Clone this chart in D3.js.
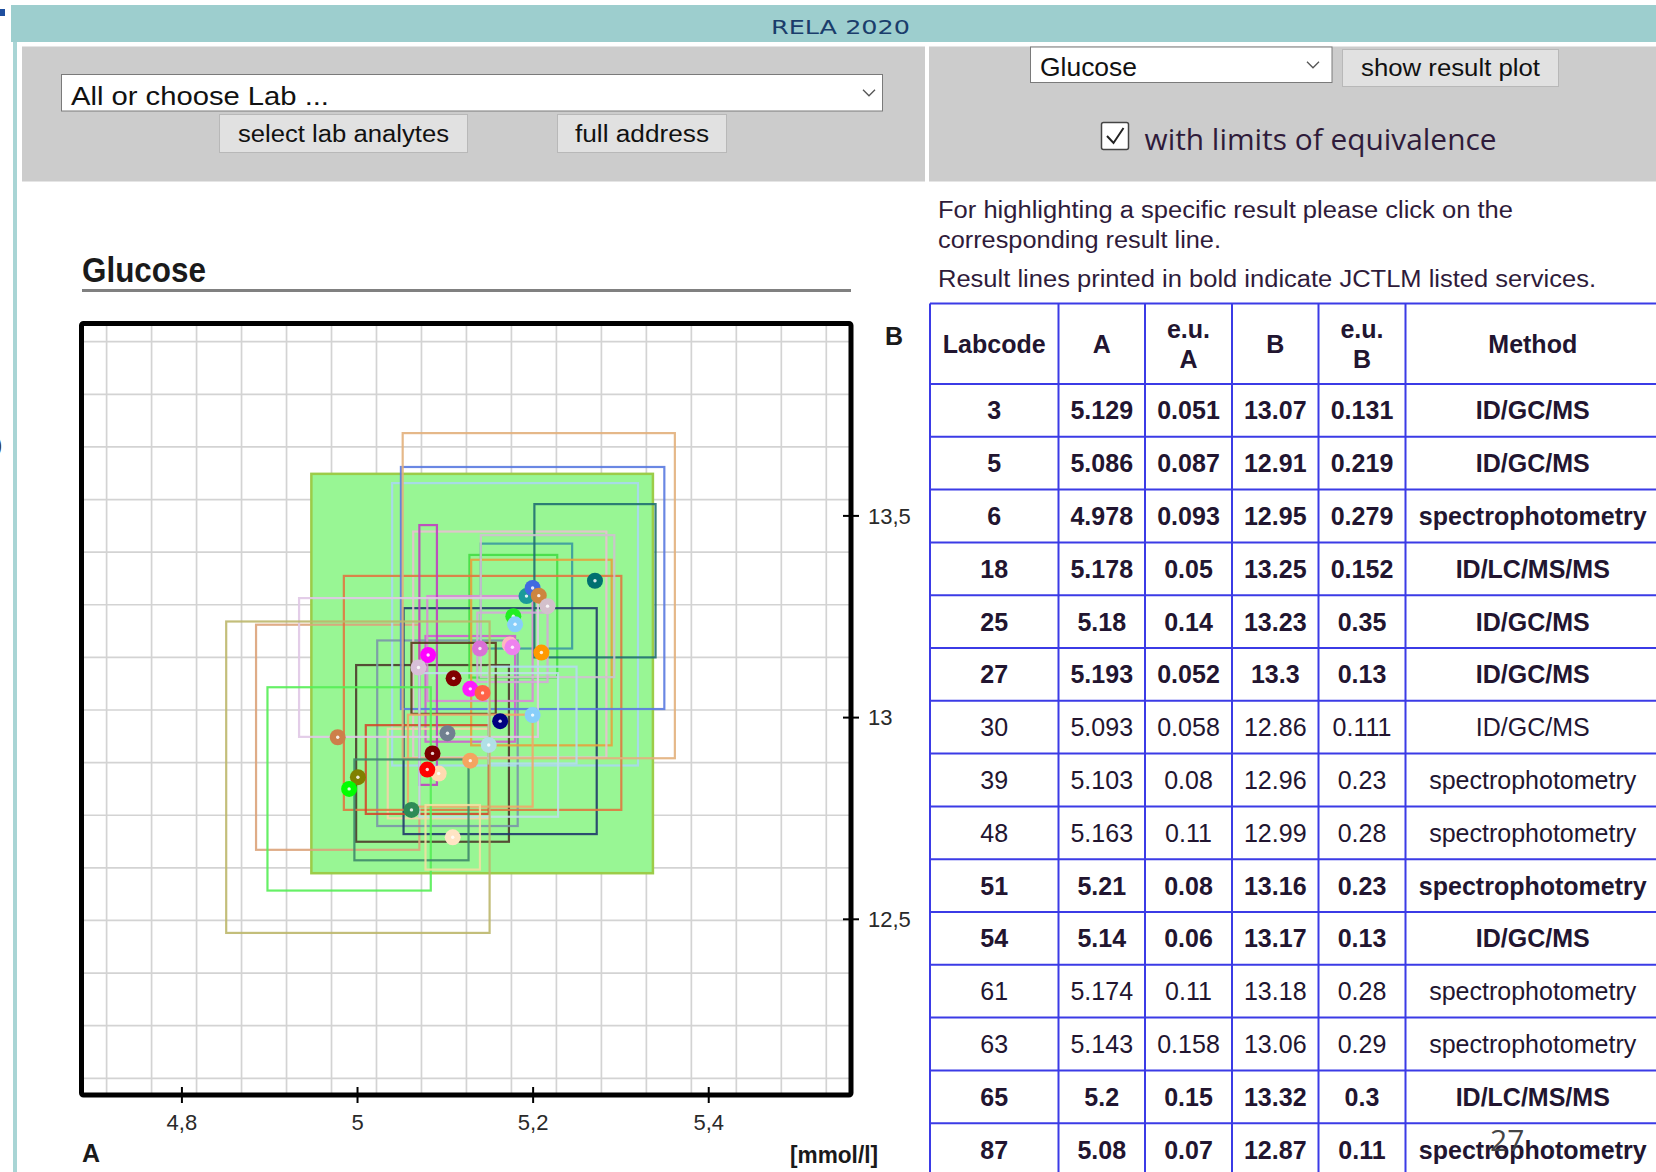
<!DOCTYPE html>
<html>
<head>
<meta charset="utf-8">
<script src="https://cdn.jsdelivr.net/npm/d3@7"></script>
<style>
  html, body { margin: 0; padding: 0; background: #fff; }
  svg { display: block; }
</style>
</head>
<body>
<div id="page"></div>
<script>
// result table (visible rows)
const labCodes = [3, 5, 6, 18, 25, 27, 30, 39, 48, 51, 54, 61, 63, 65, 87];
const valuesA  = [5.129, 5.086, 4.978, 5.178, 5.18, 5.193, 5.093, 5.103, 5.163, 5.21, 5.14, 5.174, 5.143, 5.2, 5.08];
const uncA     = [0.051, 0.087, 0.093, 0.05, 0.14, 0.052, 0.058, 0.08, 0.11, 0.08, 0.06, 0.11, 0.158, 0.15, 0.07];
const valuesB  = [13.07, 12.91, 12.95, 13.25, 13.23, 13.3, 12.86, 12.96, 12.99, 13.16, 13.17, 13.18, 13.06, 13.32, 12.87];
const uncB     = [0.131, 0.219, 0.279, 0.152, 0.35, 0.13, 0.111, 0.23, 0.28, 0.23, 0.13, 0.28, 0.29, 0.3, 0.11];
const methods  = ["ID/GC/MS", "ID/GC/MS", "spectrophotometry", "ID/LC/MS/MS", "ID/GC/MS", "ID/GC/MS", "ID/GC/MS",
                  "spectrophotometry", "spectrophotometry", "spectrophotometry", "ID/GC/MS", "spectrophotometry",
                  "spectrophotometry", "ID/LC/MS/MS", "spectrophotometry"];
const jctlm    = [true, true, true, true, true, true, false, false, false, true, true, false, false, true, true];

// further labs in the plot (table rows below the cut)
const moreA    = [5.271, 5.207, 5.217, 5.177, 5.081, 5.070, 5.110, 5.200, 5.150, 5.129, 5.001, 4.991, 5.062, 5.109];
const moreUncA = [0.069, 0.155, 0.076, 0.040, 0.010, 0.136, 0.048, 0.050, 0.079, 0.071, 0.150, 0.093, 0.065, 0.031];
const moreB    = [13.338, 13.301, 13.275, 13.173, 13.154, 13.123, 13.096, 13.005, 12.931, 12.892, 12.851, 12.822, 12.770, 12.702];
const moreUncB = [0.190, 0.403, 0.176, 0.086, 0.322, 0.172, 0.088, 0.120, 0.178, 0.114, 0.386, 0.252, 0.125, 0.080];

// limits of equivalence
const eqRangeA = [4.948, 5.337];
const eqRangeB = [12.613, 13.603];

const xTicks = [4.8, 5, 5.2, 5.4];
const yTicks = [12.5, 13, 13.5];

// colours (same order as the arrays above)
const rectColors = ["#cf5fcf", "#4d3b2a", "#dba37a", "#44dd44", "#a8d8f0", "#3b9aa0", "#f3d3a8", "#7a96a8",
                    "#1f3a6a", "#e6a23c", "#d98ad6", "#e8c0d0", "#e07840", "#5a7ae0", "#d24a2a"];
const dotColors  = ["#ff1aff", "#7b0000", "#cd7f4a", "#22ee22", "#87cefa", "#1a9a9a", "#ffdab0", "#708090",
                    "#000080", "#ff9900", "#da70d6", "#ffb6c1", "#ff6347", "#4169e1", "#ff0000"];
const moreRectColors = ["#207070", "#e2b07c", "#cfc0cf", "#d4a8d8", "#c040c0", "#e0c8e6", "#5c3a1e",
                        "#b4dcf0", "#bde0e8", "#f0a868", "#bdb76b", "#55ee55", "#3f8a6a", "#f0e0a0"];
const moreDotColors  = ["#007070", "#cd853f", "#d3c0cc", "#ee82ee", "#ff00ff", "#d8bfd8", "#800000",
                        "#87cefa", "#b0e0e6", "#f4a460", "#808000", "#00ff00", "#2e8b57", "#ffe4c4"];

const W = 1656, H = 1172;
const textColor = "#2f1b3a";

const svg = d3.select("#page").append("svg")
    .attr("width", W)
    .attr("height", H)
    .style("font-family", "'Liberation Sans', Arial, sans-serif");

function txt(x, y, s, size, opts = {}) {
    const t = svg.append("text")
        .attr("x", x)
        .attr("y", y)
        .attr("font-size", size)
        .attr("fill", opts.fill || "#111")
        .attr("font-weight", opts.bold ? "bold" : null)
        .attr("text-anchor", opts.anchor || "start")
        .text(s);
    if (opts.family) t.style("font-family", opts.family);
    if (opts.len) t.attr("textLength", opts.len).attr("lengthAdjust", "spacingAndGlyphs");
    return t;
}

// ---- page frame / header
svg.append("rect").attr("x", 11).attr("y", 5).attr("width", W - 11).attr("height", 37).attr("fill", "#9dcece");
svg.append("rect").attr("x", 13).attr("y", 42).attr("width", 4).attr("height", H - 42).attr("fill", "#a9d5d5");
svg.append("rect").attr("x", 0).attr("y", 9).attr("width", 5).attr("height", 7).attr("fill", "#1f4f9f");
txt(-5, 452, ")", 22, { fill: "#333" });
txt(771, 33.5, "RELA 2020", 20, { fill: "#1a3d6b", family: "'DejaVu Sans', sans-serif", len: 139 });

// gray control panels
svg.append("rect").attr("x", 22).attr("y", 46.5).attr("width", 903).attr("height", 135).attr("fill", "#cccccc");
svg.append("rect").attr("x", 929).attr("y", 46.5).attr("width", W - 929).attr("height", 135).attr("fill", "#cccccc");

function selectBox(x0, y0, w, h, label, labelW, chevX) {
    svg.append("rect").attr("x", x0).attr("y", y0).attr("width", w).attr("height", h)
        .attr("fill", "#fff").attr("stroke", "#7a7a7a").attr("stroke-width", 1);
    txt(x0 + 9.5, y0 + h - 6.5, label, 26, { len: labelW });
    svg.append("polyline")
        .attr("points", `${chevX - 6},${y0 + h / 2 - 3} ${chevX},${y0 + h / 2 + 3} ${chevX + 6},${y0 + h / 2 - 3}`)
        .attr("fill", "none").attr("stroke", "#555").attr("stroke-width", 1.3);
}
function button(x0, y0, w, h, label, labelW) {
    svg.append("rect").attr("x", x0).attr("y", y0).attr("width", w).attr("height", h)
        .attr("fill", "#e1e1e1").attr("stroke", "#b8b8b8").attr("stroke-width", 1);
    txt(x0 + w / 2 - labelW / 2, y0 + h / 2 + 8, label, 23, { len: labelW });
}

selectBox(61.5, 74.5, 821, 36.5, "All or choose Lab ...", 258, 869);
button(219.5, 114.5, 248, 38, "select lab analytes", 211);
button(557.5, 114.5, 169, 38, "full address", 134);

selectBox(1030.5, 47, 301.5, 35.5, "Glucose", 97, 1313);
button(1342.5, 49.5, 216, 37, "show result plot", 179);

svg.append("rect").attr("x", 1101.5).attr("y", 122.5).attr("width", 27).attr("height", 27)
    .attr("fill", "#fff").attr("stroke", "#444").attr("stroke-width", 1.5).attr("rx", 2);
svg.append("polyline").attr("points", "1107,136 1113.5,143 1123.5,128")
    .attr("fill", "none").attr("stroke", "#222").attr("stroke-width", 2);
txt(1144.5, 150, "with limits of equivalence", 29, { fill: textColor, family: "'Open Sans', sans-serif", len: 352 });

// ---- explanatory text
txt(938, 218, "For highlighting a specific result please click on the", 23, { fill: textColor, len: 575 });
txt(938, 248, "corresponding result line.", 23, { fill: textColor, len: 283 });
txt(938, 287, "Result lines printed in bold indicate JCTLM listed services.", 23, { fill: textColor, len: 658 });

// ---- chart
const plot = { left: 81.5, top: 323.5, right: 851, bottom: 1095 };
const x = d3.scaleLinear().domain([4.6862, 5.5626]).range([plot.left, plot.right]);
const y = d3.scaleLinear().domain([12.0632, 13.9757]).range([plot.bottom, plot.top]);

txt(82, 282, "Glucose", 35, { bold: true, fill: "#1a1a1a", len: 124 });
svg.append("line").attr("x1", 82).attr("x2", 851).attr("y1", 290.5).attr("y2", 290.5)
    .attr("stroke", "#808080").attr("stroke-width", 3);

svg.append("rect").attr("x", plot.left).attr("y", plot.top)
    .attr("width", plot.right - plot.left).attr("height", plot.bottom - plot.top).attr("fill", "#fff");

// background grid (fixed raster, not aligned to ticks)
const gx = d3.scaleLinear().domain([0, 16]).range([106.6, 826.3]);
const gy = d3.scaleLinear().domain([0, 14]).range([341.7, 1078.3]);
const grid = svg.append("g").attr("stroke", "#d3d3d3").attr("stroke-width", 1.7);
grid.selectAll(".gv").data(d3.range(17)).join("line")
    .attr("x1", d => gx(d)).attr("x2", d => gx(d)).attr("y1", plot.top).attr("y2", plot.bottom);
grid.selectAll(".gh").data(d3.range(15)).join("line")
    .attr("y1", d => gy(d)).attr("y2", d => gy(d)).attr("x1", plot.left).attr("x2", plot.right);

// limits of equivalence
svg.append("rect")
    .attr("x", x(eqRangeA[0])).attr("y", y(eqRangeB[1]))
    .attr("width", x(eqRangeA[1]) - x(eqRangeA[0]))
    .attr("height", y(eqRangeB[0]) - y(eqRangeB[1]))
    .attr("fill", "#98f694").attr("stroke", "#9ccc48").attr("stroke-width", 2.5);

// lab results
const labs = labCodes.map((c, i) => ({
    a: valuesA[i], ua: uncA[i], b: valuesB[i], ub: uncB[i], rc: rectColors[i], dc: dotColors[i]
})).concat(moreA.map((a, i) => ({
    a, ua: moreUncA[i], b: moreB[i], ub: moreUncB[i], rc: moreRectColors[i], dc: moreDotColors[i]
})));

svg.append("g").selectAll("rect").data(labs).join("rect")
    .attr("x", d => x(d.a - d.ua))
    .attr("y", d => y(d.b + d.ub))
    .attr("width", d => x(d.a + d.ua) - x(d.a - d.ua))
    .attr("height", d => y(d.b - d.ub) - y(d.b + d.ub))
    .attr("fill", "none")
    .attr("stroke", d => d.rc)
    .attr("stroke-width", 2.2)
    .attr("stroke-opacity", 0.9);

const dots = svg.append("g").selectAll("g").data(labs).join("g")
    .attr("transform", d => `translate(${x(d.a)},${y(d.b)})`);
dots.append("circle").attr("r", 8).attr("fill", d => d.dc);
dots.append("circle").attr("r", 1.7).attr("fill", "#fff").attr("fill-opacity", 0.85);

// frame
svg.append("rect").attr("x", plot.left).attr("y", plot.top)
    .attr("width", plot.right - plot.left).attr("height", plot.bottom - plot.top)
    .attr("fill", "none").attr("stroke", "#000").attr("stroke-width", 5)
    .attr("stroke-linejoin", "round").attr("rx", 2);

const fmt = d => String(d).replace(".", ",");

svg.append("g")
    .attr("transform", `translate(0,${plot.bottom})`)
    .call(d3.axisBottom(x).tickValues(xTicks).tickFormat(fmt))
    .call(g => g.select(".domain").remove())
    .call(g => g.selectAll(".tick line").attr("y1", -8).attr("y2", 8).attr("stroke-width", 2))
    .call(g => g.selectAll(".tick text").attr("y", 35).attr("dy", 0)
        .attr("font-size", 22).attr("fill", "#2a2a2a").style("font-family", "'Liberation Sans', Arial, sans-serif"));

svg.append("g")
    .attr("transform", `translate(${plot.right},0)`)
    .call(d3.axisRight(y).tickValues(yTicks).tickFormat(fmt))
    .call(g => g.select(".domain").remove())
    .call(g => g.selectAll(".tick line").attr("x1", -8).attr("x2", 8).attr("stroke-width", 2))
    .call(g => g.selectAll(".tick text").attr("x", 17).attr("dy", "0.35em")
        .attr("font-size", 22).attr("fill", "#2a2a2a").style("font-family", "'Liberation Sans', Arial, sans-serif"));

txt(885, 345, "B", 25, { bold: true, fill: "#1a1a1a" });
txt(82, 1162, "A", 25, { bold: true, fill: "#1a1a1a" });
txt(790, 1163, "[mmol/l]", 23, { bold: true, fill: "#1a1a1a", len: 88 });

// ---- table
const colEdges = [930, 1058.5, 1145, 1232, 1318.5, 1405.5, 1660];
const headTop = 303.5, headBottom = 384, rowH = 52.8;
const headers = [["Labcode"], ["A"], ["e.u.", "A"], ["B"], ["e.u.", "B"], ["Method"]];
const tableColor = "#221530";
const lineColor = "#3b3be6";

const table = svg.append("g");
headers.forEach((h, i) => {
    const cx = (colEdges[i] + colEdges[i + 1]) / 2;
    if (h.length === 1) {
        txt(cx, 353, h[0], 25, { bold: true, anchor: "middle", fill: tableColor });
    } else {
        txt(cx, 338, h[0], 25, { bold: true, anchor: "middle", fill: tableColor });
        txt(cx, 368, h[1], 25, { bold: true, anchor: "middle", fill: tableColor });
    }
});

labCodes.forEach((code, i) => {
    const cells = [code, valuesA[i], uncA[i], valuesB[i], uncB[i], methods[i]];
    const cy = headBottom + rowH * i + rowH / 2;
    cells.forEach((v, j) => {
        const cx = (colEdges[j] + colEdges[j + 1]) / 2;
        txt(cx, cy + 9, String(v), 25, { bold: jctlm[i], anchor: "middle", fill: tableColor });
    });
});

const rowLines = [headTop, headBottom].concat(d3.range(1, 16).map(k => headBottom + k * rowH));
table.selectAll(".rl").data(rowLines).join("line")
    .attr("x1", colEdges[0]).attr("x2", W).attr("y1", d => d).attr("y2", d => d)
    .attr("stroke", lineColor).attr("stroke-width", 2);
table.selectAll(".cl").data(colEdges.slice(0, 6)).join("line")
    .attr("x1", d => d).attr("x2", d => d).attr("y1", headTop).attr("y2", H)
    .attr("stroke", lineColor).attr("stroke-width", 2);

// page number
txt(1490, 1151, "27", 30, { fill: "#444", family: "'Open Sans', sans-serif" });
</script>
</body>
</html>
